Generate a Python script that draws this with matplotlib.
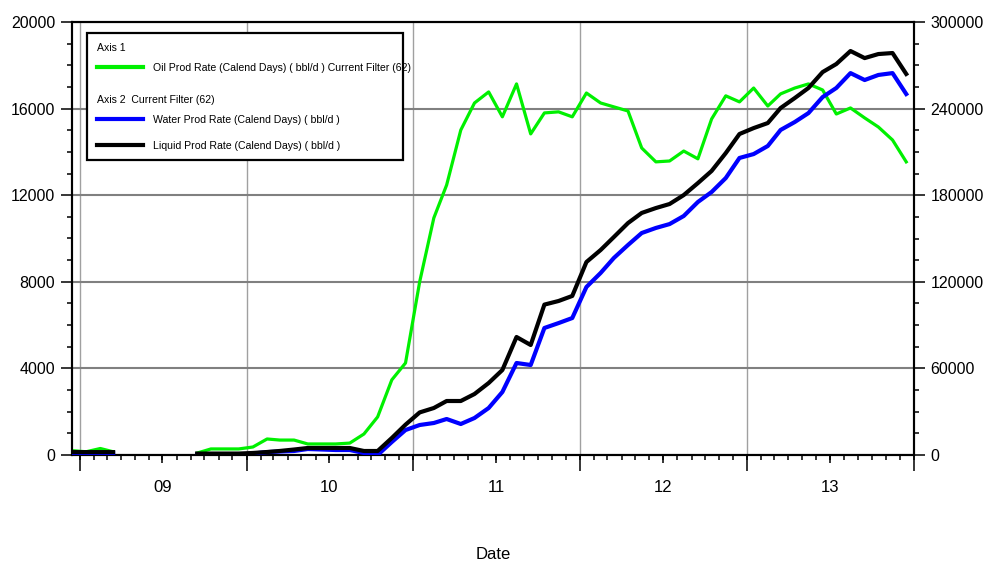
import numpy as np
import pandas as pd
import matplotlib
matplotlib.use('Agg')
import matplotlib.pyplot as plt
import matplotlib.dates as mdates
from matplotlib.lines import Line2D
from matplotlib.patches import Rectangle
from matplotlib.ticker import MultipleLocator

plt.rcParams['font.family'] = ['Liberation Sans', 'DejaVu Sans']

# monthly values (mid-month), Dec 2008 .. Dec 2013
dates = pd.date_range('2008-12-01', '2013-12-01', freq='MS') + pd.Timedelta(days=14)
nan = np.nan

# Axis 1 (bbl/d)
oil = [200, 150, 300, 150, nan, nan, nan, nan, nan,
       90, 280, 280, 280, 370, 740, 690, 690, 510, 510, 510, 550, 970, 1760, 3470, 4250,
       8000, 10950, 12470, 15010, 16260, 16770, 15620, 17140, 14830, 15800,
       15850, 15620, 16720, 16260, 16080, 15890, 14180, 13540, 13580, 14040, 13680, 15520, 16590, 16310,
       16950, 16120, 16680, 16950, 17140, 16860, 15750, 16030, 15570, 15150, 14550, 13540]

# Axis 2 (bbl/d)
water = [1200, 1200, 1200, 1200, nan, nan, nan, nan, nan,
         200, 200, 200, 200, 1000, 2000, 2400, 2770, 4150, 3800, 3460, 3460, 1390, 0, 9000, 17300,
         20780, 22170, 24940, 21480, 25630, 32560, 43650, 63740, 62350, 88000,
         91400, 94900, 116400, 126100, 136500, 145500, 153800, 157300, 160000, 165600, 175300, 182200, 191900, 205800,
         208500, 214100, 225200, 230700, 236900, 248000, 254300, 264600, 259800, 263300, 264600, 250100]

liquid = [2000, 2000, 2000, 2000, nan, nan, nan, nan, nan,
          1000, 1000, 1000, 1000, 1400, 2080, 2800, 3800, 4850, 4850, 4850, 4850, 2770, 2770, 11780, 21000,
          29500, 32560, 37410, 37410, 42260, 49880, 58890, 81750, 76210, 104200,
          106700, 110200, 133700, 142000, 151000, 160700, 167700, 171100, 173900, 180100, 188400, 196800, 209200, 222400,
          226500, 230000, 240400, 247300, 254300, 265300, 270900, 279900, 275000, 277800, 278500, 264000]

oil_label = 'Oil Prod Rate (Calend Days) ( bbl/d ) Current Filter (62)'
water_label = 'Water Prod Rate (Calend Days) ( bbl/d )'
liquid_label = 'Liquid Prod Rate (Calend Days) ( bbl/d )'

GREEN = '#00f000'
BLUE = '#0000ff'
BLACK = '#000000'

fig = plt.figure(figsize=(9.9, 5.65), dpi=100)
ax = fig.add_axes([72 / 990, 110 / 565, 842 / 990, 433 / 565])
ax2 = ax.twinx()

ax.plot(dates, oil, color=GREEN, lw=2.3, zorder=3)
ax2.plot(dates, water, color=BLUE, lw=3.0, zorder=3)
ax2.plot(dates, liquid, color=BLACK, lw=3.0, zorder=4)

ax.set_xlim(dates[0], pd.Timestamp('2014-01-01'))
ax.set_ylim(0, 20000)
ax2.set_ylim(0, 300000)

# y axes
ax.yaxis.set_major_locator(MultipleLocator(4000))
ax.yaxis.set_minor_locator(MultipleLocator(1000))
ax2.yaxis.set_major_locator(MultipleLocator(60000))
ax2.yaxis.set_minor_locator(MultipleLocator(15000))
for a in (ax, ax2):
    a.tick_params(axis='y', which='major', length=8, width=1.1, pad=4, labelsize=11.5)
    a.tick_params(axis='y', which='minor', length=3.6, width=1.1)

# x axis: labels mid-year, long ticks + grid at Jan, small monthly ticks
ax.xaxis.set_major_locator(mdates.MonthLocator(bymonth=7))
ax.xaxis.set_major_formatter(mdates.DateFormatter('%y'))
ax.xaxis.set_minor_locator(mdates.YearLocator())
ax.tick_params(axis='x', which='major', length=5.8, width=1.1, pad=12.5, labelsize=12)
ax.tick_params(axis='x', which='minor', length=11.5, width=1.1)
sec = ax.secondary_xaxis('bottom')
sec.xaxis.set_major_locator(mdates.MonthLocator())
sec.tick_params(axis='x', length=3.6, width=1.1, labelbottom=False)
sec.spines['bottom'].set_visible(False)

ax.set_axisbelow(True)
ax.grid(True, axis='y', which='major', color='#808080', lw=1.5)
ax.grid(True, axis='x', which='minor', color='#a0a0a0', lw=1.0)

for a in (ax, ax2):
    for s in a.spines.values():
        s.set_linewidth(1.5)
        s.set_color('black')

ax.set_xlabel('Date', fontsize=12, labelpad=37)

# legend box
lx0, lx1 = 15 / 842, 331 / 842
ly0, ly1 = 295 / 433, 422 / 433
ax2.add_patch(Rectangle((lx0, ly0), lx1 - lx0, ly1 - ly0, transform=ax2.transAxes,
                        facecolor='white', edgecolor='black', lw=1.6, zorder=10))
hx0, hx1, tx = 25 / 842, 71 / 842, 81 / 842
fs = 7.6
ax2.text(hx0, 0.940, 'Axis 1', transform=ax2.transAxes, fontsize=fs, va='center', zorder=11)
ax2.add_line(Line2D([hx0, hx1], [0.896, 0.896], transform=ax2.transAxes, color=GREEN, lw=3.0, zorder=11))
ax2.text(tx, 0.893, oil_label, transform=ax2.transAxes, fontsize=fs, va='center', zorder=11)
ax2.text(hx0, 0.820, 'Axis 2  Current Filter (62)', transform=ax2.transAxes, fontsize=fs, va='center', zorder=11)
ax2.add_line(Line2D([hx0, hx1], [0.776, 0.776], transform=ax2.transAxes, color=BLUE, lw=3.0, zorder=11))
ax2.text(tx, 0.773, water_label, transform=ax2.transAxes, fontsize=fs, va='center', zorder=11)
ax2.add_line(Line2D([hx0, hx1], [0.716, 0.716], transform=ax2.transAxes, color=BLACK, lw=3.0, zorder=11))
ax2.text(tx, 0.714, liquid_label, transform=ax2.transAxes, fontsize=fs, va='center', zorder=11)

fig.savefig('out.png', dpi=100)
